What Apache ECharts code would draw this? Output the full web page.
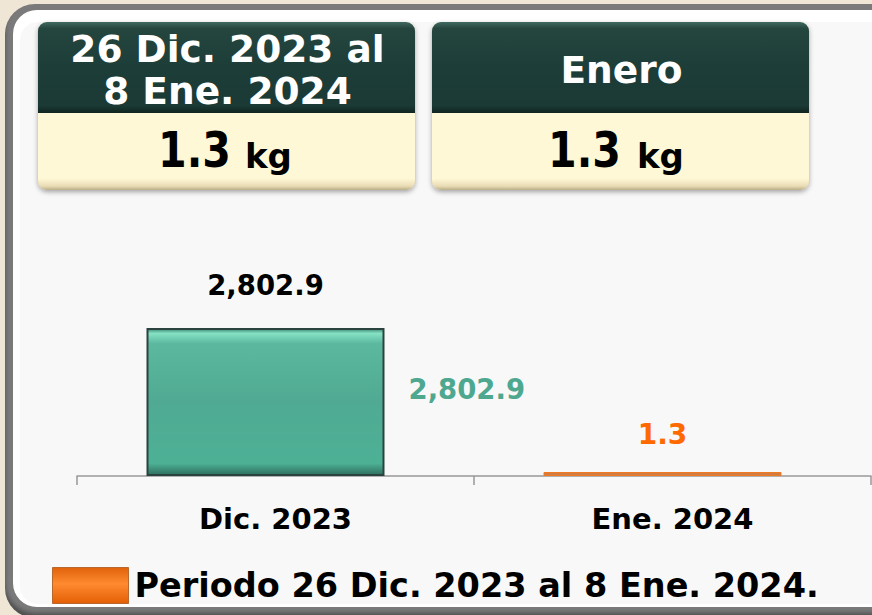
<!DOCTYPE html>
<html>
<head>
<meta charset="utf-8">
<script src="https://cdn.jsdelivr.net/npm/echarts@6/dist/echarts.min.js"></script>
<style>
  html, body { margin: 0; padding: 0; width: 872px; height: 615px; overflow: hidden; background: #efe6d6; }
  #frame { position: absolute; left: 5px; top: 4px; width: 920px; height: 614px; border-radius: 30px;
           background: #7a7a7a; box-shadow: inset 0 -5px 4px rgba(0,0,0,0.35); }
  #white { position: absolute; left: 13px; top: 10px; width: 920px; height: 597px; border-radius: 24px; background: #ffffff; }
  #panel { position: absolute; left: 20px; top: 22px; width: 920px; height: 582px; border-radius: 18px; background: #f8f8f8; }
  #chart { position: absolute; left: 0; top: 0; width: 872px; height: 615px; }
</style>
</head>
<body>
<div id="frame"></div>
<div id="white"></div>
<div id="panel"></div>
<div id="chart"></div>
<script>
// ---- data ----
var categories = ['Dic. 2023', 'Ene. 2024'];
var decValues = [2802.9, '-'];
var periodValues = ['-', 1.3];
var periodName = 'Periodo 26 Dic. 2023 al 8 Ene. 2024.';
var boxTitles = ['26 Dic. 2023 al\n8 Ene. 2024', 'Enero'];
var boxValues = [1.3, 1.3];
var boxUnit = 'kg';

var FONT = '"DejaVu Sans", sans-serif';
function fmt(v) {
  return Number(v).toLocaleString('en-US', { minimumFractionDigits: 1, maximumFractionDigits: 1 });
}

var chart = echarts.init(document.getElementById('chart'), null, { renderer: 'svg' });

function makeBox(x, title, value, valEnd, unitStart) {
  var w = 377, top = 22, hh = 91, ch = 77;
  return {
    type: 'group',
    z: 100,
    children: [
      { type: 'rect', shape: { x: x, y: top, width: w, height: hh + ch, r: 9 },
        style: { fill: '#d9cfa8', shadowBlur: 5, shadowOffsetY: 2, shadowColor: 'rgba(0,0,0,0.35)' } },
      { type: 'rect', shape: { x: x, y: top, width: w, height: hh, r: [9, 9, 0, 0] },
        style: { fill: new echarts.graphic.LinearGradient(0, 0, 0, 1, [
          { offset: 0, color: '#3f6961' }, { offset: 0.07, color: '#25463f' },
          { offset: 0.5, color: '#1d3d38' }, { offset: 0.92, color: '#1b3a35' }, { offset: 1, color: '#10241f' }]) } },
      { type: 'rect', shape: { x: x, y: top + hh, width: w, height: ch, r: [0, 0, 9, 9] },
        style: { fill: new echarts.graphic.LinearGradient(0, 0, 0, 1, [
          { offset: 0, color: '#fff8d8' }, { offset: 0.85, color: '#fff8d6' },
          { offset: 0.95, color: '#e9dcb4' }, { offset: 1, color: '#b9ad8a' }]) } },
      { type: 'text', style: { x: x + w / 2 + 1, y: top + hh / 2 + 2, text: title, fill: '#ffffff',
          font: 'bold 37.5px ' + FONT, align: 'center', verticalAlign: 'middle', lineHeight: 42 } },
      { type: 'text', x: x + valEnd, y: 0, scaleX: 0.84, originX: 0, originY: 0,
        style: { x: 0, y: 150, text: String(value), fill: '#000',
          font: '900 49px ' + FONT, align: 'right', verticalAlign: 'middle' } },
      { type: 'text', style: { x: x + unitStart, y: 156, text: boxUnit, fill: '#000',
          font: 'bold 34px ' + FONT, align: 'left', verticalAlign: 'middle' } }
    ]
  };
}

var tealGrad = new echarts.graphic.LinearGradient(0, 0, 0, 1, [
  { offset: 0, color: '#3d8a76' }, { offset: 0.03, color: '#86e2c3' }, { offset: 0.1, color: '#5cb89f' },
  { offset: 0.5, color: '#50aa93' }, { offset: 0.92, color: '#4db196' }, { offset: 1, color: '#2f6e5e' }]);
var orangeGrad = new echarts.graphic.LinearGradient(0, 0, 0, 1, [
  { offset: 0, color: '#e0620a' }, { offset: 0.45, color: '#ff8a30' }, { offset: 1, color: '#e35f05' }]);

chart.setOption({
  animation: false,
  grid: { left: 77, right: 1, top: 212, bottom: 139 },
  legend: {
    data: [periodName], left: 52, top: 567, padding: 0, itemWidth: 76, itemHeight: 36, icon: 'rect',
    itemStyle: { color: orangeGrad, borderColor: '#b8672e', borderWidth: 1 },
    textStyle: { fontFamily: FONT, fontWeight: 'bold', fontSize: 33.5, color: '#000', padding: [0, 0, 0, 1] }
  },
  graphic: [ makeBox(38, boxTitles[0], boxValues[0], 193, 207), makeBox(432, boxTitles[1], boxValues[1], 189, 205) ],
  xAxis: {
    type: 'category', data: categories,
    axisLine: { lineStyle: { color: '#999999', width: 1.5 } },
    axisTick: { show: true, length: 9, lineStyle: { color: '#999999', width: 1.5 } },
    axisLabel: { fontFamily: FONT, fontWeight: 'bold', fontSize: 29, color: '#000', margin: 28 }
  },
  yAxis: { type: 'value', min: 0, max: 5000, show: false, splitLine: { show: false } },
  series: [
    { name: 'Dic', type: 'bar', stack: 'a', barWidth: 238, barGap: '0%', data: decValues,
      itemStyle: { color: tealGrad, borderColor: '#2a433e', borderWidth: 2 },
      label: { show: true, position: 'top', distance: 29, formatter: function (p) { return fmt(p.value); },
               fontFamily: FONT, fontWeight: 'bold', fontSize: 27.5, color: '#000' } },
    { name: periodName, type: 'bar', stack: 'a', barWidth: 238, barGap: '0%', data: periodValues, barMinHeight: 4,
      itemStyle: { color: '#d27c44', borderColor: '#f07a20', borderWidth: 1 },
      label: { show: true, position: 'top', distance: 24, formatter: function (p) { return fmt(p.value); },
               fontFamily: FONT, fontWeight: 'bold', fontSize: 28, color: '#ff6a00' } },
    { name: 'echo', type: 'bar', stack: 'b', barWidth: 20, barGap: '0%', data: decValues,
      itemStyle: { color: 'rgba(0,0,0,0)' }, silent: true,
      label: { show: true, position: 'right', distance: 4, offset: [0, -13], formatter: function (p) { return fmt(p.value); },
               fontFamily: FONT, fontWeight: 'bold', fontSize: 27.5, color: '#4ea890' } }
  ]
});
</script>
</body>
</html>
